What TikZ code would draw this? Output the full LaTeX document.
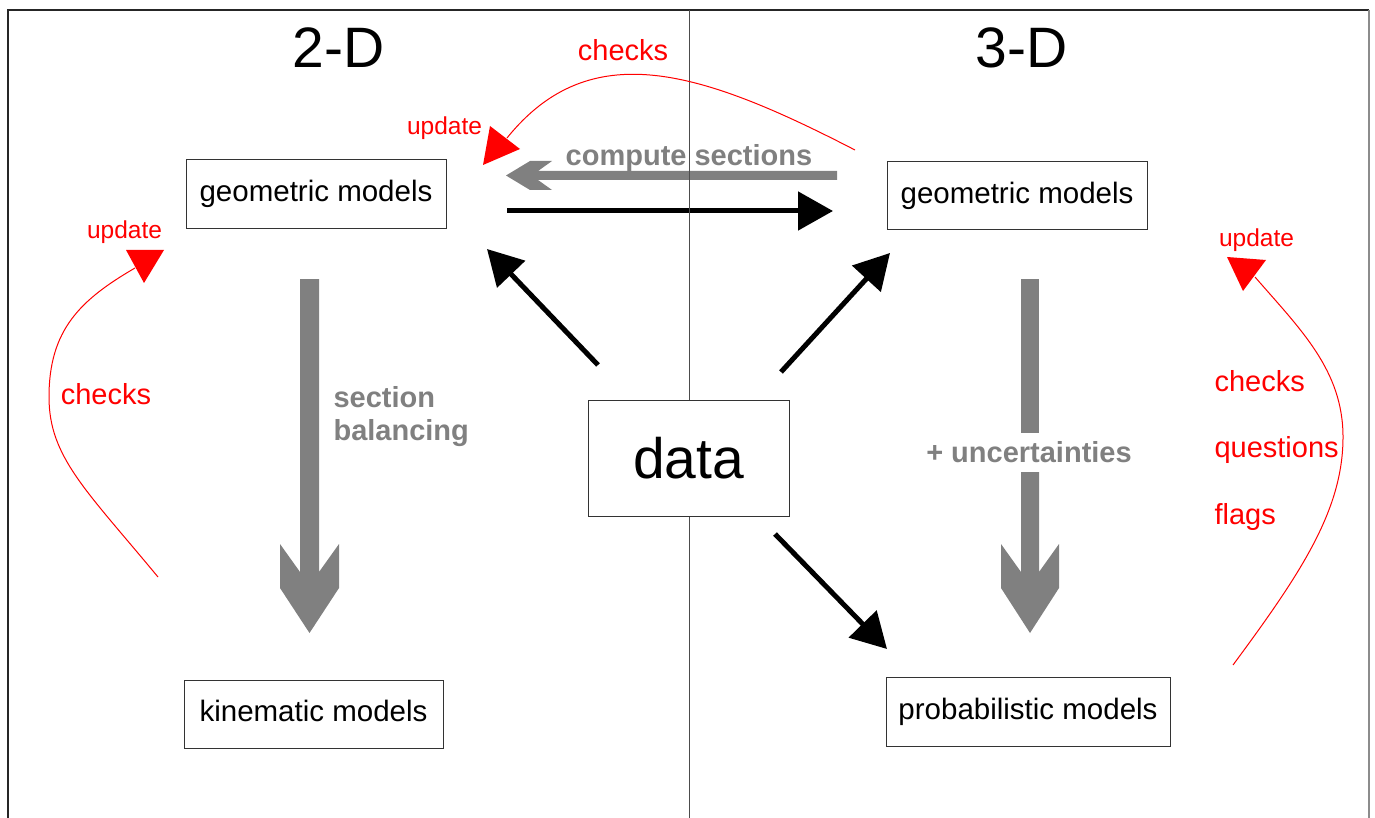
\documentclass[tikz,border=0pt]{standalone}
\usepackage{fontspec}
\setmainfont{Liberation Sans}
\usetikzlibrary{arrows.meta,calc}

\begin{document}
\begin{tikzpicture}[x=1pt,y=-1pt,
  box/.style={draw=black!80, line width=1pt, fill=white, inner sep=0pt,
    font=\fontsize{29.5}{34}\selectfont, text height=21pt, text depth=6pt},
  title/.style={anchor=base, font=\fontsize{57}{62}\selectfont},
  graylbl/.style={anchor=base, text=fatgray, font=\fontsize{29}{33}\bfseries},
  redlbl/.style={anchor=base, text=red, font=\fontsize{29}{33}\selectfont},
  redsmall/.style={anchor=base, text=red, font=\fontsize{24.5}{28}\selectfont},
  blk/.style={line width=5pt, -{Triangle[length=35pt,width=38pt]}},
  redline/.style={draw=red, line width=1pt},
]
\definecolor{fatgray}{HTML}{808080}
\useasboundingbox (0,0) rectangle (1375,818);

% frame
\draw[black!85, line width=1.3pt] (8,818) -- (8,10) -- (1369,10);
\draw[black!45, line width=1.3pt] (1369,10) -- (1369,818);

% column titles
\node[title] (t2d) at (338.5,68) {2-D};
\node[title] (t3d) at (1021.5,68) {3-D};

% model boxes
\node[box, minimum width=260pt, minimum height=69pt] (geoL) at (316,194.5) {geometric models};
\node[box, minimum width=260pt, minimum height=68pt] (geoR) at (1017,196) {geometric models};
\node[box, minimum width=259pt, minimum height=68pt] (kin) at (313.5,714) {kinematic models};
\node[box, minimum width=284pt, minimum height=69pt] (prob) at (1028,711.5) {probabilistic models};

% broad grey arrows
\coordinate (balTop) at (309.5,279);
\fill[fatgray] (balTop) ++(-9.5,0) -- ++(19,0) -- ++(0,293) -- ++(20,-28) -- ++(0,44)
  -- ++(-29.5,45) -- ++(-29.5,-45) -- ++(0,-44) -- ++(20,28) -- cycle;
\node[graylbl, anchor=base west] (sec1) at (330,407) {section};
\node[graylbl, anchor=base west] (sec2) at (330,440) {balancing};

\coordinate (uncTop) at (1030,279);
\fill[fatgray] (uncTop) ++(-9,0) rectangle ++(18,154);
\fill[fatgray] (uncTop) ++(-9,193) -- ++(18,0) -- ++(0,100) -- ++(20,-28) -- ++(0,44)
  -- ++(-29,45) -- ++(-29,-45) -- ++(0,-44) -- ++(20,28) -- cycle;
\node[graylbl] (unc) at (1029,462) {+ uncertainties};

\coordinate (csTail) at (837,175.5);
\fill[fatgray] (csTail) ++(0,-4.5) -- ++(0,9) -- (538,180) -- (552,190) -- (530,190)
  -- (506,175.5) -- (530,161) -- (552,161) -- (538,171) -- cycle;
\node[graylbl] (cs) at (689,166) {compute sections};

% black arrows
\coordinate (hS) at (507,211);
\coordinate (hE) at (833,211);
\draw[blk] (hS) -- (hE);
\coordinate (dL) at (598,365);
\coordinate (gLt) at (487,249);
\draw[blk] (dL) -- (gLt);
\coordinate (dR) at (781,372);
\coordinate (gRt) at (890,253);
\draw[blk] (dR) -- (gRt);
\coordinate (dB) at (775,534);
\coordinate (pTt) at (887,649);
\draw[blk] (dB) -- (pTt);

% column divider and data box
\draw[black!70, line width=1pt] (689,10) -- (689,818);
\node[box, minimum width=201pt, minimum height=116pt, font=\fontsize{57}{62}\selectfont,
  text height=41pt, text depth=0pt] (data) at (688.5,458) {data};

% red feedback loops
\draw[redline] (855,150) .. controls (700,70) and (590,35) .. (507,138);
\fill[red] (490,126) -- (520,149) -- (483,165) -- cycle;
\node[redlbl] (chkTop) at (623,61) {checks};
\node[redsmall] (updTop) at (444.5,135) {update};

\draw[redline] (158,577) .. controls (86,490) and (49,457) .. (49,397)
  .. controls (49,330) and (80,300) .. (135,268);
\fill[red] (126,250) -- (164,250) -- (144,283) -- cycle;
\node[redsmall] (updL) at (124.5,239) {update};
\node[redlbl] (chkL) at (106,404) {checks};

\draw[redline] (1233,665) .. controls (1301,573) and (1343,510) .. (1343,437)
  .. controls (1343,370) and (1300,329) .. (1255,277);
\fill[red] (1227,257) -- (1266,260) -- (1243,291) -- cycle;
\node[redsmall] (updR) at (1256.5,247) {update};
\node[redlbl, anchor=base west] (chkR) at (1211,391) {checks};
\node[redlbl, anchor=base west] (qR) at (1211,457) {questions};
\node[redlbl, anchor=base west] (fR) at (1211,524) {flags};
\end{tikzpicture}
\end{document}
